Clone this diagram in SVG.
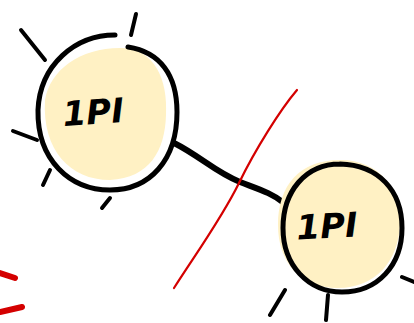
<svg xmlns="http://www.w3.org/2000/svg" width="414" height="323" viewBox="0 0 414 323">
<style>
.fill{fill:#fff1c4;stroke:none}
.ring{fill:none;stroke:#000;stroke-width:5;stroke-linecap:round}
.edge{fill:none;stroke:#000;stroke-width:6;stroke-linecap:round}
.tick{fill:none;stroke:#000;stroke-width:4;stroke-linecap:round}
.lbl{font-family:"DejaVu Sans",sans-serif;font-weight:bold;font-style:italic;font-size:34px;fill:#000;text-anchor:middle}
.cut{fill:none;stroke:#d40000;stroke-width:2.2;stroke-linecap:round}
.red{fill:none;stroke:#d40000;stroke-width:6;stroke-linecap:round}
</style>
<g id="connectors">
<path class="edge" d="M174 143 C200 156 215 172 240 182 C258 189 272 193 284 203"/>
<path class="cut" d="M297 90 C280 110 255 150 239 183 C222 218 195 255 174 288"/>
</g>
<g id="node1">
<path class="fill" d="M45 100 C50 70 80 48 120 48 C155 48 168 80 166 115 C165 150 150 178 110 180 C70 180 42 150 45 100 Z"/>
<path class="ring" d="M115 35 C75 35 40 65 38 110 C37 160 70 190 110 190 C150 190 177 160 177 112 C177 75 160 52 128 47"/>
<path class="tick" d="M21 30 L45 60 M136 14 L131 35 M13 131 L37 140 M50 170 L43 185 M110 198 L102 208"/>
<text class="lbl" x="93" y="124" transform="rotate(-4 93 110)">1PI</text>
</g>
<g id="node2">
<path class="fill" d="M278 225 C278 185 300 160 340 160 C380 160 402 190 400 225 C398 262 375 288 338 288 C300 288 278 262 278 225 Z"/>
<path class="ring" d="M340 164 C305 164 283 192 283 228 C283 265 308 292 342 292 C378 292 402 265 402 228 C402 190 378 165 340 164"/>
<path class="tick" d="M285 290 L270 315 M328 295 L326 320 M402 277 L414 282"/>
<text class="lbl" x="327" y="238" transform="rotate(-3 327 225)">1PI</text>
</g>
<path class="red" d="M0 273 L15 278 M0 312 L22 307"/>
</svg>
